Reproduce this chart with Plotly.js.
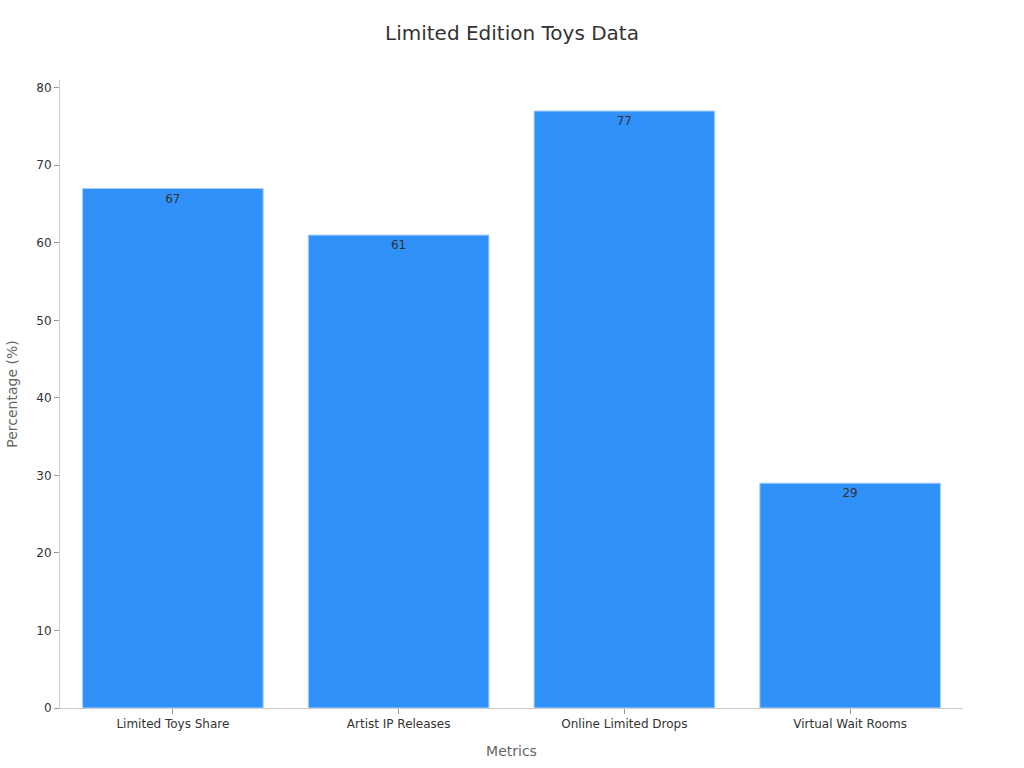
<!DOCTYPE html>
<html>
<head>
<meta charset="utf-8">
<script src="https://cdn.plot.ly/plotly-3.0.1.min.js"></script>
<style>
  html, body { margin: 0; padding: 0; background: #fff; }
  #chart { width: 1024px; height: 768px; }
</style>
</head>
<body>
<div id="chart"></div>
<script>
// Données
const categories = ['Limited Toys Share', 'Artist IP Releases', 'Online Limited Drops', 'Virtual Wait Rooms'];
const values = [67, 61, 77, 29];

const FONT = 'DejaVu Sans, Noto Sans, sans-serif';

Plotly.newPlot('chart', [{
  x: categories,
  y: values,
  type: 'bar',
  text: values.map(String),
  textposition: 'inside',
  insidetextanchor: 'end',
  textfont: { family: FONT, size: 12, color: '#333' },
  marker: { color: '#3092f8', line: { color: '#a9cff7', width: 1 } },
  hoverinfo: 'x+y',
}], {
  width: 1024, height: 768,
  paper_bgcolor: '#fff',
  plot_bgcolor: '#fff',
  margin: { t: 80, b: 60, l: 60, r: 61 },
  bargap: 0.2,
  showlegend: false,
  title: {
    text: 'Limited Edition Toys Data',
    font: { family: FONT, size: 20, color: '#333' },
    x: 0.5, y: 0.957, xanchor: 'center', yanchor: 'middle',
  },
  xaxis: {
    title: { text: 'Metrics', font: { family: FONT, size: 14, color: '#666' }, standoff: 15 },
    tickfont: { family: FONT, size: 12, color: '#333' },
    showline: true, linecolor: '#ccc', linewidth: 1,
    ticks: 'outside', ticklen: 5, tickcolor: '#999',
    showgrid: false, zeroline: false,
  },
  yaxis: {
    title: { text: 'Percentage (%)', font: { family: FONT, size: 14, color: '#666' }, standoff: 15 },
    tickfont: { family: FONT, size: 12, color: '#333' },
    range: [0, 81],
    dtick: 10,
    showline: true, linecolor: '#ccc', linewidth: 1,
    ticks: 'outside', ticklen: 5, tickcolor: '#999',
    showgrid: false, zeroline: false,
  },
}, { displayModeBar: false, responsive: false });
</script>
</body>
</html>
